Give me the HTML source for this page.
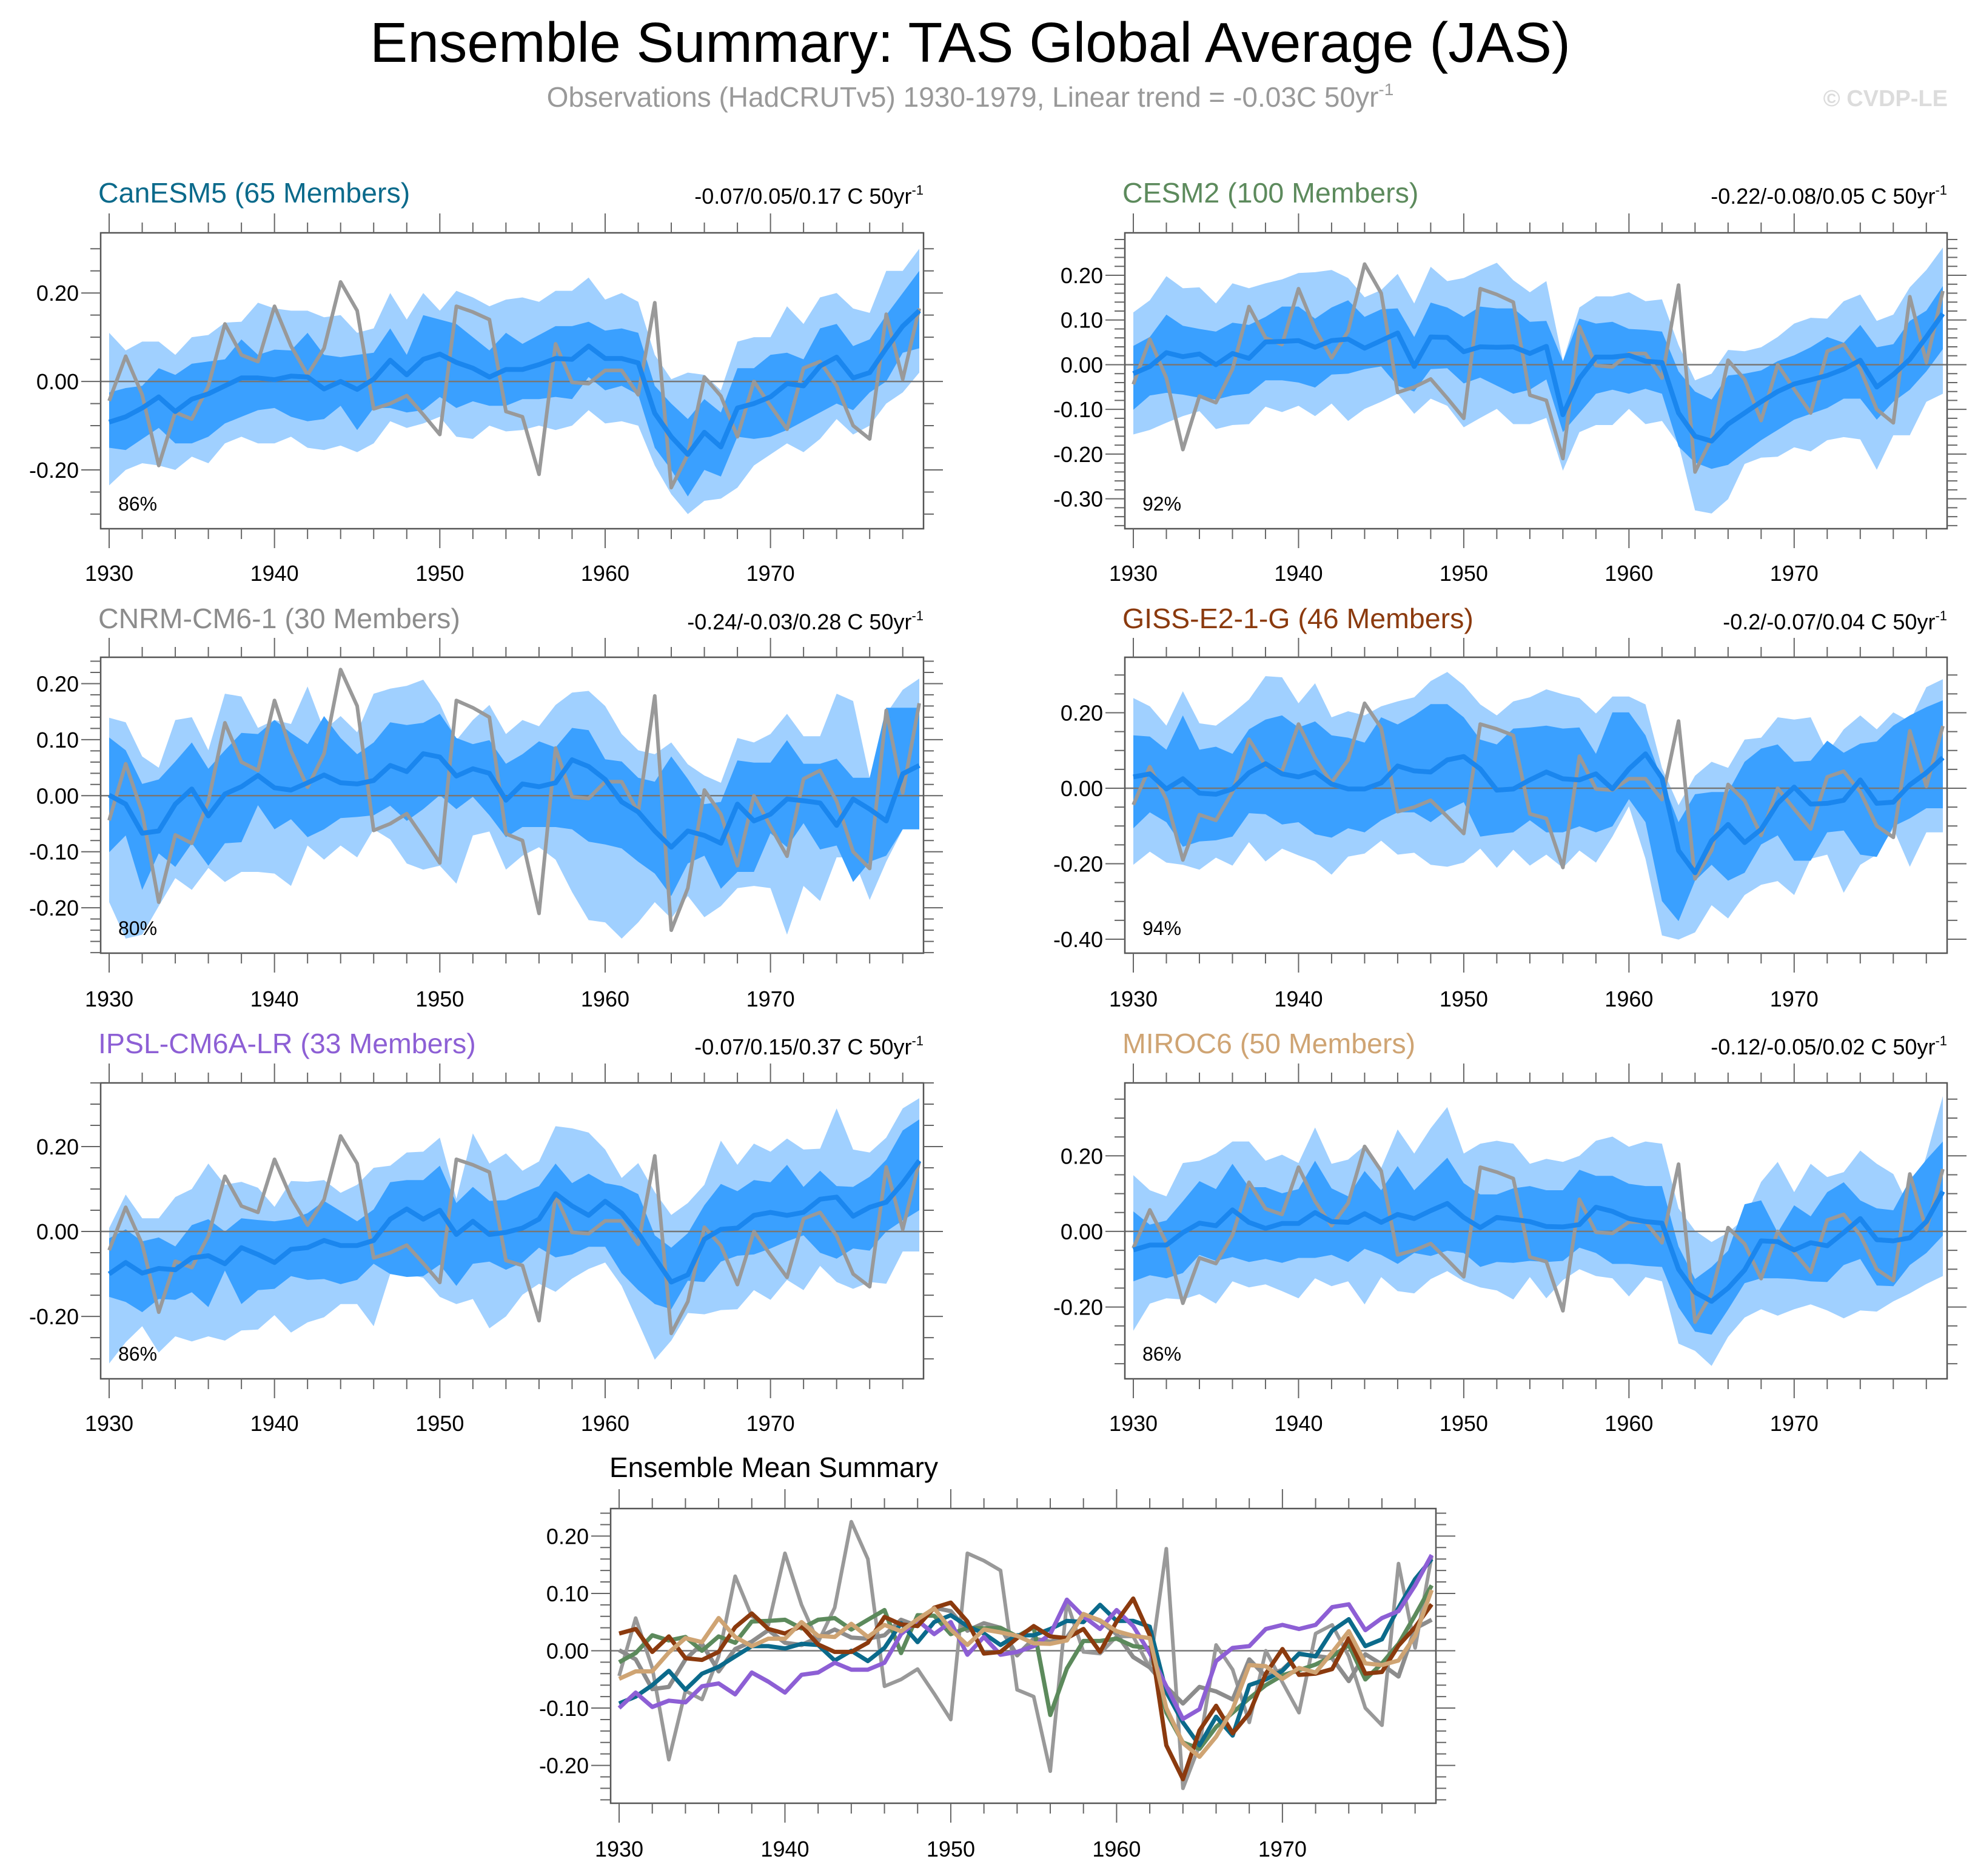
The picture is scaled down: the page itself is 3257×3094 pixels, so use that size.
<!DOCTYPE html>
<html><head><meta charset="utf-8">
<style>
html,body{margin:0;padding:0;background:#fff;}
svg{display:block;font-family:"Liberation Sans",Arial,sans-serif;}
</style></head>
<body>
<svg id="chart" width="3257" height="3094" viewBox="0 0 3257 3094" xmlns="http://www.w3.org/2000/svg">
<text x="1600" y="102" font-size="93" text-anchor="middle" fill="#000">Ensemble Summary: TAS Global Average (JAS)</text>
<text x="1600" y="176" font-size="46" text-anchor="middle" fill="#999">Observations (HadCRUTv5) 1930-1979, Linear trend = -0.03C 50yr<tspan font-size="28" dy="-19">-1</tspan></text>
<text x="3212" y="175" font-size="38" font-weight="bold" text-anchor="end" fill="#dcdcdc">© CVDP-LE</text>
<g id="plots"></g>
</svg>
<script>
// ---------- data ----------
const years=[];for(let y=1930;y<=1979;y++)years.push(y);
const obs=[-0.044,0.057,-0.03,-0.19,-0.07,-0.085,-0.01,0.13,0.06,0.045,0.17,0.08,0.015,0.075,0.225,0.16,-0.062,-0.05,-0.032,-0.075,-0.12,0.17,0.157,0.14,-0.068,-0.08,-0.21,0.085,-0.002,-0.005,0.025,0.025,-0.03,0.178,-0.24,-0.165,0.01,-0.033,-0.125,0.0,-0.055,-0.108,0.03,0.045,-0.01,-0.1,-0.13,0.152,0.005,0.165];

const canMean=[-0.092,-0.08,-0.06,-0.035,-0.068,-0.04,-0.028,-0.01,0.008,0.008,0.004,0.012,0.01,-0.017,0.0,-0.018,0.005,0.048,0.015,0.05,0.062,0.043,0.03,0.01,0.027,0.027,0.038,0.052,0.05,0.08,0.052,0.052,0.042,-0.072,-0.125,-0.165,-0.115,-0.148,-0.06,-0.05,-0.035,-0.005,-0.01,0.035,0.055,0.008,0.02,0.075,0.125,0.16];
const canOutHi=[0.11,0.07,0.09,0.09,0.06,0.1,0.105,0.133,0.135,0.178,0.165,0.16,0.16,0.145,0.15,0.11,0.12,0.2,0.14,0.2,0.16,0.205,0.19,0.17,0.185,0.19,0.18,0.205,0.205,0.235,0.185,0.2,0.18,0.06,0.005,0.02,0.015,-0.02,0.09,0.1,0.1,0.17,0.13,0.19,0.2,0.165,0.155,0.25,0.25,0.3];
const canInHi=[-0.025,-0.015,-0.01,0.03,0.015,0.04,0.045,0.05,0.095,0.06,0.072,0.07,0.11,0.06,0.055,0.06,0.065,0.12,0.06,0.15,0.14,0.13,0.1,0.07,0.11,0.085,0.105,0.125,0.125,0.135,0.115,0.12,0.11,-0.01,-0.05,-0.085,-0.04,-0.07,0.03,0.03,0.06,0.065,0.05,0.12,0.13,0.08,0.095,0.15,0.2,0.25];
const canInLo=[-0.15,-0.155,-0.13,-0.105,-0.14,-0.14,-0.125,-0.095,-0.08,-0.065,-0.06,-0.08,-0.09,-0.085,-0.055,-0.11,-0.06,-0.06,-0.07,-0.065,-0.035,-0.06,-0.045,-0.055,-0.055,-0.04,-0.04,-0.035,-0.04,0.01,-0.02,-0.01,-0.03,-0.15,-0.2,-0.26,-0.2,-0.215,-0.125,-0.13,-0.125,-0.11,-0.09,-0.07,-0.05,-0.065,-0.025,0.0,0.065,0.075];
const canOutLo=[-0.235,-0.2,-0.185,-0.19,-0.2,-0.17,-0.185,-0.14,-0.125,-0.14,-0.14,-0.125,-0.15,-0.155,-0.145,-0.16,-0.14,-0.09,-0.105,-0.095,-0.08,-0.125,-0.13,-0.1,-0.113,-0.11,-0.1,-0.11,-0.1,-0.065,-0.095,-0.09,-0.1,-0.19,-0.255,-0.3,-0.27,-0.265,-0.24,-0.19,-0.165,-0.14,-0.16,-0.13,-0.085,-0.12,-0.1,-0.05,-0.025,0.02];

const cesMean=[-0.020,-0.004,0.027,0.018,0.024,0.000,0.025,0.014,0.051,0.052,0.054,0.039,0.054,0.057,0.037,0.054,0.071,-0.004,0.062,0.061,0.029,0.040,0.039,0.040,0.025,0.041,-0.112,-0.031,0.017,0.017,0.021,0.008,0.005,-0.108,-0.160,-0.171,-0.133,-0.108,-0.083,-0.060,-0.043,-0.034,-0.024,-0.010,0.010,-0.050,-0.022,0.012,0.062,0.114];
const cesOutHi=[0.117,0.144,0.198,0.171,0.173,0.137,0.182,0.171,0.182,0.191,0.205,0.207,0.212,0.194,0.151,0.167,0.203,0.137,0.219,0.187,0.194,0.212,0.228,0.189,0.162,0.187,0.008,0.128,0.153,0.153,0.162,0.142,0.146,0.044,-0.035,-0.020,0.033,0.030,0.039,0.062,0.092,0.105,0.103,0.142,0.157,0.098,0.112,0.173,0.212,0.262];
const cesInHi=[0.042,0.062,0.112,0.087,0.080,0.074,0.094,0.089,0.107,0.130,0.130,0.103,0.128,0.144,0.107,0.124,0.126,0.062,0.139,0.128,0.107,0.130,0.126,0.126,0.096,0.098,0.008,0.103,0.092,0.096,0.080,0.078,0.074,-0.015,-0.060,-0.078,-0.024,-0.020,-0.013,0.008,0.021,0.039,0.062,0.049,0.089,0.039,0.046,0.098,0.121,0.176];
const cesInLo=[-0.101,-0.069,-0.063,-0.067,-0.074,-0.078,-0.069,-0.065,-0.035,-0.035,-0.040,-0.051,-0.022,-0.020,-0.010,-0.004,-0.047,-0.060,-0.010,-0.008,-0.042,-0.029,-0.047,-0.065,-0.056,-0.033,-0.151,-0.108,-0.065,-0.056,-0.065,-0.054,-0.065,-0.183,-0.219,-0.233,-0.224,-0.196,-0.169,-0.146,-0.123,-0.110,-0.097,-0.076,-0.076,-0.123,-0.083,-0.056,-0.015,0.035];
const cesOutLo=[-0.156,-0.146,-0.130,-0.115,-0.104,-0.144,-0.135,-0.133,-0.094,-0.106,-0.092,-0.115,-0.087,-0.126,-0.099,-0.083,-0.065,-0.110,-0.076,-0.092,-0.140,-0.119,-0.099,-0.133,-0.133,-0.119,-0.237,-0.151,-0.135,-0.135,-0.099,-0.133,-0.126,-0.178,-0.326,-0.333,-0.301,-0.222,-0.208,-0.206,-0.185,-0.194,-0.169,-0.162,-0.167,-0.235,-0.158,-0.158,-0.083,-0.065];

const cnrMean=[0.001,-0.015,-0.067,-0.063,-0.015,0.012,-0.036,0.003,0.016,0.036,0.014,0.010,0.023,0.037,0.023,0.021,0.027,0.054,0.043,0.075,0.069,0.035,0.048,0.040,-0.008,0.021,0.016,0.023,0.064,0.052,0.029,-0.011,-0.029,-0.063,-0.092,-0.063,-0.071,-0.085,-0.015,-0.045,-0.033,-0.006,-0.009,-0.013,-0.053,-0.006,-0.024,-0.045,0.039,0.054];
const cnrOutHi=[0.139,0.131,0.070,0.050,0.135,0.140,0.081,0.182,0.177,0.121,0.135,0.128,0.195,0.117,0.142,0.113,0.182,0.191,0.196,0.207,0.164,0.099,0.135,0.162,0.110,0.135,0.124,0.162,0.184,0.187,0.160,0.110,0.081,0.074,0.095,0.056,0.036,0.023,0.103,0.095,0.110,0.146,0.106,0.106,0.182,0.169,0.032,0.146,0.189,0.209];
const cnrInHi=[0.104,0.081,0.021,0.029,0.061,0.095,0.048,0.081,0.112,0.110,0.135,0.112,0.092,0.142,0.103,0.074,0.095,0.131,0.126,0.130,0.146,0.103,0.092,0.099,0.057,0.074,0.097,0.086,0.121,0.117,0.065,0.061,0.032,0.025,0.070,0.030,-0.015,-0.011,0.063,0.059,0.059,0.099,0.057,0.057,0.066,0.032,0.032,0.157,0.157,0.157];
const cnrInLo=[-0.101,-0.071,-0.168,-0.103,-0.127,-0.085,-0.125,-0.085,-0.083,-0.017,-0.060,-0.042,-0.074,-0.060,-0.040,-0.038,-0.035,-0.018,-0.045,-0.024,0.001,-0.024,-0.002,-0.035,-0.074,-0.056,-0.056,-0.056,-0.060,-0.082,-0.087,-0.094,-0.118,-0.139,-0.179,-0.121,-0.107,-0.166,-0.136,-0.136,-0.067,-0.092,-0.049,-0.096,-0.089,-0.154,-0.118,-0.107,-0.060,-0.060];
const cnrOutLo=[-0.190,-0.255,-0.248,-0.197,-0.147,-0.168,-0.129,-0.154,-0.136,-0.136,-0.139,-0.161,-0.089,-0.114,-0.089,-0.110,-0.060,-0.078,-0.121,-0.132,-0.125,-0.157,-0.071,-0.064,-0.132,-0.107,-0.092,-0.114,-0.172,-0.222,-0.226,-0.255,-0.226,-0.190,-0.219,-0.179,-0.217,-0.197,-0.165,-0.161,-0.165,-0.248,-0.161,-0.188,-0.110,-0.110,-0.186,-0.118,-0.060,-0.060];

const gisMean=[0.030,0.038,-0.002,0.025,-0.013,-0.016,-0.002,0.041,0.065,0.038,0.030,0.043,0.011,-0.002,-0.002,0.014,0.059,0.046,0.043,0.075,0.084,0.051,-0.005,-0.002,0.022,0.043,0.025,0.022,0.038,-0.002,0.051,0.091,0.027,-0.165,-0.224,-0.139,-0.096,-0.144,-0.109,-0.040,0.003,-0.042,-0.040,-0.032,0.022,-0.040,-0.037,0.009,0.041,0.081];
const gisOutHi=[0.239,0.217,0.166,0.257,0.172,0.166,0.198,0.235,0.297,0.294,0.225,0.278,0.188,0.204,0.193,0.217,0.230,0.241,0.284,0.308,0.273,0.222,0.193,0.230,0.241,0.262,0.249,0.239,0.198,0.243,0.243,0.222,0.054,-0.045,0.033,0.070,0.054,0.129,0.134,0.188,0.182,0.188,0.094,0.156,0.193,0.156,0.201,0.177,0.268,0.289];
const gisInHi=[0.140,0.137,0.102,0.193,0.102,0.110,0.091,0.156,0.182,0.193,0.161,0.177,0.140,0.134,0.121,0.188,0.169,0.193,0.223,0.223,0.188,0.129,0.116,0.158,0.161,0.166,0.158,0.161,0.091,0.201,0.201,0.140,0.022,-0.090,-0.016,-0.010,-0.010,0.070,0.105,0.116,0.070,0.073,0.126,0.094,0.118,0.124,0.166,0.193,0.215,0.233];
const gisInLo=[-0.106,-0.064,-0.090,-0.155,-0.141,-0.138,-0.128,-0.066,-0.069,-0.096,-0.090,-0.122,-0.131,-0.106,-0.117,-0.085,-0.064,-0.064,-0.090,-0.058,-0.037,-0.128,-0.122,-0.117,-0.085,-0.117,-0.117,-0.101,-0.117,-0.101,-0.029,-0.090,-0.299,-0.352,-0.245,-0.203,-0.245,-0.224,-0.149,-0.125,-0.192,-0.192,-0.117,-0.112,-0.176,-0.182,-0.101,-0.080,-0.053,-0.053];
const gisOutLo=[-0.203,-0.168,-0.197,-0.203,-0.216,-0.184,-0.205,-0.143,-0.194,-0.160,-0.178,-0.194,-0.229,-0.181,-0.173,-0.139,-0.176,-0.171,-0.203,-0.208,-0.197,-0.160,-0.211,-0.163,-0.205,-0.176,-0.211,-0.165,-0.197,-0.128,-0.048,-0.187,-0.390,-0.401,-0.382,-0.310,-0.345,-0.283,-0.256,-0.246,-0.283,-0.187,-0.176,-0.277,-0.203,-0.176,-0.107,-0.208,-0.117,-0.117];

const ipsMean=[-0.100,-0.073,-0.098,-0.087,-0.090,-0.062,-0.057,-0.076,-0.038,-0.054,-0.073,-0.042,-0.038,-0.021,-0.033,-0.033,-0.021,0.029,0.053,0.029,0.050,-0.007,0.024,-0.007,-0.002,0.008,0.029,0.089,0.060,0.038,0.071,0.043,-0.004,-0.062,-0.119,-0.102,-0.018,0.005,0.008,0.038,0.045,0.038,0.045,0.076,0.081,0.036,0.057,0.069,0.114,0.167];
const ipsOutHi=[0.008,0.087,0.031,0.031,0.081,0.100,0.160,0.110,0.117,0.103,0.058,0.119,0.117,0.121,0.091,0.110,0.150,0.155,0.186,0.188,0.221,0.077,0.231,0.160,0.184,0.143,0.165,0.248,0.243,0.233,0.193,0.126,0.161,0.093,0.039,0.067,0.110,0.214,0.157,0.207,0.188,0.219,0.193,0.195,0.290,0.193,0.186,0.221,0.290,0.314];
const ipsInHi=[-0.016,0.005,-0.023,-0.014,-0.035,0.015,0.029,0.000,0.031,0.027,0.024,0.029,0.043,0.072,0.048,0.024,0.052,0.116,0.121,0.121,0.155,0.067,0.105,0.072,0.074,0.091,0.107,0.160,0.114,0.136,0.114,0.107,0.088,-0.009,-0.038,-0.004,0.062,0.112,0.095,0.121,0.116,0.157,0.105,0.143,0.107,0.105,0.129,0.169,0.238,0.264];
const ipsInLo=[-0.154,-0.166,-0.190,-0.159,-0.161,-0.143,-0.178,-0.092,-0.171,-0.138,-0.135,-0.105,-0.114,-0.112,-0.124,-0.114,-0.076,-0.100,-0.107,-0.105,-0.078,-0.128,-0.076,-0.071,-0.090,-0.073,-0.038,-0.061,-0.054,-0.036,-0.036,-0.098,-0.138,-0.171,-0.183,-0.116,-0.119,-0.071,-0.057,-0.054,-0.040,-0.023,-0.009,-0.050,-0.064,-0.040,-0.045,0.000,0.026,0.050];
const ipsOutLo=[-0.311,-0.261,-0.223,-0.285,-0.247,-0.259,-0.247,-0.257,-0.233,-0.231,-0.197,-0.238,-0.214,-0.202,-0.171,-0.171,-0.223,-0.100,-0.100,-0.109,-0.154,-0.171,-0.159,-0.228,-0.200,-0.149,-0.123,-0.142,-0.111,-0.088,-0.073,-0.128,-0.214,-0.302,-0.257,-0.192,-0.195,-0.185,-0.183,-0.138,-0.161,-0.114,-0.138,-0.081,-0.119,-0.135,-0.119,-0.123,-0.047,-0.047];

const mirMean=[-0.049,-0.036,-0.036,-0.003,0.022,0.015,0.057,0.024,0.008,0.021,0.021,0.050,0.026,0.024,0.047,0.024,0.045,0.034,0.055,0.074,0.037,0.010,0.037,0.032,0.026,0.013,0.012,0.018,0.064,0.053,0.034,0.026,0.022,-0.100,-0.161,-0.185,-0.150,-0.102,-0.025,-0.027,-0.049,-0.030,-0.038,-0.003,0.034,-0.022,-0.025,-0.017,0.026,0.106];
const mirOutHi=[0.149,0.109,0.093,0.181,0.187,0.206,0.238,0.238,0.187,0.203,0.181,0.275,0.179,0.190,0.227,0.168,0.270,0.206,0.273,0.329,0.206,0.232,0.240,0.232,0.179,0.192,0.184,0.200,0.240,0.251,0.224,0.238,0.232,0.061,0.002,-0.028,-0.003,0.034,0.131,0.184,0.104,0.179,0.144,0.157,0.214,0.179,0.152,0.061,0.200,0.358];
const mirInHi=[0.053,0.018,0.029,0.080,0.133,0.112,0.179,0.117,0.117,0.101,0.112,0.187,0.114,0.093,0.160,0.109,0.173,0.109,0.152,0.195,0.128,0.098,0.098,0.114,0.120,0.109,0.109,0.163,0.147,0.147,0.126,0.120,0.120,-0.040,-0.126,-0.094,-0.051,0.072,0.082,-0.003,0.069,0.040,0.104,0.130,0.082,0.061,0.056,0.136,0.190,0.238];
const mirInLo=[-0.132,-0.116,-0.124,-0.110,-0.062,-0.078,-0.068,-0.081,-0.073,-0.083,-0.070,-0.070,-0.062,-0.081,-0.046,-0.062,-0.086,-0.057,-0.065,-0.051,-0.057,-0.094,-0.081,-0.083,-0.078,-0.081,-0.078,-0.043,-0.057,-0.086,-0.086,-0.091,-0.094,-0.201,-0.265,-0.273,-0.207,-0.137,-0.124,-0.124,-0.126,-0.132,-0.134,-0.089,-0.073,-0.143,-0.145,-0.089,-0.057,-0.011];
const mirOutLo=[-0.263,-0.191,-0.177,-0.180,-0.166,-0.191,-0.132,-0.148,-0.140,-0.158,-0.177,-0.124,-0.145,-0.132,-0.193,-0.121,-0.158,-0.164,-0.126,-0.105,-0.132,-0.148,-0.156,-0.180,-0.121,-0.177,-0.129,-0.100,-0.118,-0.124,-0.172,-0.121,-0.132,-0.297,-0.316,-0.356,-0.279,-0.228,-0.206,-0.223,-0.206,-0.193,-0.209,-0.230,-0.209,-0.212,-0.185,-0.164,-0.139,-0.118];

const modelNames=["CanESM5 (65 Members)","CESM2 (100 Members)","CNRM-CM6-1 (30 Members)","GISS-E2-1-G (46 Members)","IPSL-CM6A-LR (33 Members)","MIROC6 (50 Members)"];
const trendLabels=["-0.07/0.05/0.17 C 50yr","-0.22/-0.08/0.05 C 50yr","-0.24/-0.03/0.28 C 50yr","-0.2/-0.07/0.04 C 50yr","-0.07/0.15/0.37 C 50yr","-0.12/-0.05/0.02 C 50yr"];
const pctLabels=["86%","92%","80%","94%","86%","86%"];
const xTickLabels=["1930","1940","1950","1960","1970"];

// ---------- layout (not data) ----------
const NS="http://www.w3.org/2000/svg";
const root=document.getElementById('plots');
const modelColors=["#0b6a8b","#5c8a5c","#8c8c8c","#8b3a0e","#8d5fd5","#cfa473"];
const panels=[
 {x0:166,x1:1523,y0:384,y1:872,lo:-0.333,hi:0.336,major:0.2,minor:0.05,ticks:[0.2,0,-0.2],ty:334,lx:958},
 {x0:1855,x1:3211,y0:384,y1:872,lo:-0.367,hi:0.295,major:0.1,minor:0.02,ticks:[0.2,0.1,0,-0.1,-0.2,-0.3],ty:334,lx:958},
 {x0:166,x1:1523,y0:1084,y1:1572,lo:-0.281,hi:0.247,major:0.1,minor:0.02,ticks:[0.2,0.1,0,-0.1,-0.2],ty:1036,lx:1660},
 {x0:1855,x1:3211,y0:1084,y1:1572,lo:-0.437,hi:0.347,major:0.2,minor:0.05,ticks:[0.2,0,-0.2,-0.4],ty:1036,lx:1660},
 {x0:166,x1:1523,y0:1786,y1:2274,lo:-0.347,hi:0.35,major:0.2,minor:0.05,ticks:[0.2,0,-0.2],ty:1737,lx:2360},
 {x0:1855,x1:3211,y0:1786,y1:2274,lo:-0.39,hi:0.393,major:0.2,minor:0.05,ticks:[0.2,0,-0.2],ty:1737,lx:2360}
];
const series=[
 [canMean,canOutHi,canInHi,canInLo,canOutLo],
 [cesMean,cesOutHi,cesInHi,cesInLo,cesOutLo],
 [cnrMean,cnrOutHi,cnrInHi,cnrInLo,cnrOutLo],
 [gisMean,gisOutHi,gisInHi,gisInLo,gisOutLo],
 [ipsMean,ipsOutHi,ipsInHi,ipsInLo,ipsOutLo],
 [mirMean,mirOutHi,mirInHi,mirInLo,mirOutLo]
];

function el(tag,attrs,parent){const e=document.createElementNS(NS,tag);for(const k in attrs)e.setAttribute(k,attrs[k]);(parent||root).appendChild(e);return e;}
function mkX(p){return yr=>p.x0+14+(yr-1930)*(p.x1-p.x0-21)/49;}
function mkY(p){return v=>p.y1-(v-p.lo)*(p.y1-p.y0)/(p.hi-p.lo);}
function linePath(arr,X,Y){return arr.map((v,i)=>(i?'L':'M')+X(years[i]).toFixed(1)+','+Y(v).toFixed(1)).join('');}
function bandPath(hi,lo,X,Y){let d='';hi.forEach((v,i)=>{d+=(i?'L':'M')+X(years[i]).toFixed(1)+','+Y(v).toFixed(1);});for(let i=lo.length-1;i>=0;i--)d+='L'+X(years[i]).toFixed(1)+','+Y(lo[i]).toFixed(1);return d+'Z';}
function fmt(v){return (Math.abs(v)<1e-9?0:v).toFixed(2);}

function axes(g,p,X,Y){
  for(let yr=1930;yr<=1978;yr+=2){
    const major=(yr%10===0);const L=major?32:17;const xx=X(yr);
    const t1=el('line',{x1:xx,x2:xx,y1:p.y0,y2:p.y0-L,stroke:'#666','stroke-width':2},g);
    
    
    const t2=el('line',{x1:xx,x2:xx,y1:p.y1,y2:p.y1+L,stroke:'#666','stroke-width':2},g);
    
    
  }
  xTickLabels.forEach(s=>{
    const t=el('text',{x:X(+s),y:p.lx,'font-size':36,'text-anchor':'middle',fill:'#000'},g);t.textContent=s;
    
    
  });
  const n0=Math.ceil(p.lo/p.minor-1e-6),n1=Math.floor(p.hi/p.minor+1e-6);
  for(let k=n0;k<=n1;k++){
    const v=k*p.minor;const isMaj=Math.abs(v/p.major-Math.round(v/p.major))<1e-6;const L=isMaj?32:17;const yy=Y(v);
    const a=el('line',{x1:p.x0,x2:p.x0-L,y1:yy,y2:yy,stroke:'#666','stroke-width':2},g);
    
    
    const b=el('line',{x1:p.x1,x2:p.x1+L,y1:yy,y2:yy,stroke:'#666','stroke-width':2},g);
    
    
  }
  p.ticks.forEach(v=>{
    const t=el('text',{x:p.x0-36,y:Y(v)+13,'font-size':36,'text-anchor':'end',fill:'#000'},g);t.textContent=fmt(v);
    
    
  });
}

panels.forEach((p,i)=>{
  const g=el('g',{});
  
  
  const X=mkX(p),Y=mkY(p);const s=series[i];
  const clipId='clip'+i;const cp=el('clipPath',{id:clipId},g);el('rect',{x:p.x0,y:p.y0,width:p.x1-p.x0,height:p.y1-p.y0},cp);
  const ob=el('path',{d:bandPath(s[1],s[4],X,Y),fill:'#a0d0ff','clip-path':'url(#'+clipId+')'},g);
  
  
  const ib=el('path',{d:bandPath(s[2],s[3],X,Y),fill:'#3aa0ff','clip-path':'url(#'+clipId+')'},g);
  
  
  const z=el('line',{x1:p.x0,x2:p.x1,y1:Y(0),y2:Y(0),stroke:'#777','stroke-width':2.5},g);
  
  
  const o=el('path',{d:linePath(obs,X,Y),fill:'none',stroke:'#999','stroke-width':6,'stroke-linejoin':'round'},g);
  
  
  const m=el('path',{d:linePath(s[0],X,Y),fill:'none',stroke:'#1a86ee','stroke-width':8,'stroke-linejoin':'round'},g);
  
  
  const fr=el('rect',{x:p.x0,y:p.y0,width:p.x1-p.x0,height:p.y1-p.y0,fill:'none',stroke:'#555','stroke-width':2.5},g);
  
  
  axes(g,p,X,Y);
  const t=el('text',{x:p.x0-4,y:p.ty,'font-size':46.5,fill:modelColors[i]},g);t.textContent=modelNames[i];
  
  
  const tr=el('text',{x:p.x1,y:p.ty+2,'font-size':36,'text-anchor':'end',fill:'#000'},g);
  tr.textContent=trendLabels[i];
  const sup=el('tspan',{'font-size':22,dy:-15},tr);sup.textContent='-1';
  
  
  const pc=el('text',{x:p.x0+29,y:p.y1-30,'font-size':32,fill:'#000'},g);pc.textContent=pctLabels[i];
  
  
});

(function(){
  const p={x0:1007,x1:2368,y0:2488,y1:2974,lo:-0.266,hi:0.248,major:0.1,minor:0.02,ticks:[0.2,0.1,0,-0.1,-0.2],lx:3062};
  const g=el('g',{});
  
  
  const X=mkX(p),Y=mkY(p);
  const z=el('line',{x1:p.x0,x2:p.x1,y1:Y(0),y2:Y(0),stroke:'#777','stroke-width':2.5},g);
  
  
  const o=el('path',{d:linePath(obs,X,Y),fill:'none',stroke:'#999','stroke-width':6,'stroke-linejoin':'round'},g);
  
  
  const order=[2,1,0,4,3,5];
  order.forEach(i=>{
    const l=el('path',{d:linePath(series[i][0],X,Y),fill:'none',stroke:modelColors[i],'stroke-width':7,'stroke-linejoin':'round'},g);
    
    
  });
  const fr=el('rect',{x:p.x0,y:p.y0,width:p.x1-p.x0,height:p.y1-p.y0,fill:'none',stroke:'#555','stroke-width':2.5},g);
  
  
  axes(g,p,X,Y);
  const t=el('text',{x:1005,y:2436,'font-size':46,fill:'#000'},g);t.textContent='Ensemble Mean Summary';
  
  
})();
</script>
</body></html>
